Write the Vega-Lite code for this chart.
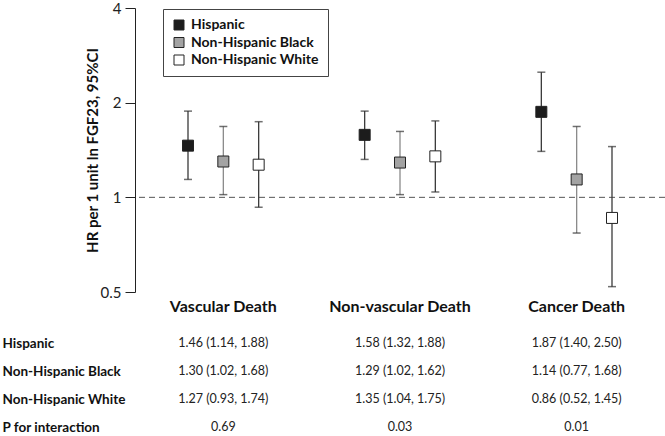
{
  "$schema": "https://vega.github.io/schema/vega-lite/v6.json",
  "padding": {"left": 2, "top": 1, "right": 0, "bottom": 0},
  "bounds": "flush",
  "spacing": 51,
  "resolve": {"scale": {"color": "independent"}, "legend": {"color": "independent"}},
  "config": {"font": "Lato", "view": {"stroke": null}},
  "datasets": {
    "est": [
      {"group": "Vascular Death", "race": "Hispanic", "hr": 1.46, "lo": 1.14, "hi": 1.88},
      {"group": "Vascular Death", "race": "Non-Hispanic Black", "hr": 1.30, "lo": 1.02, "hi": 1.68},
      {"group": "Vascular Death", "race": "Non-Hispanic White", "hr": 1.27, "lo": 0.93, "hi": 1.74},
      {"group": "Non-vascular Death", "race": "Hispanic", "hr": 1.58, "lo": 1.32, "hi": 1.88},
      {"group": "Non-vascular Death", "race": "Non-Hispanic Black", "hr": 1.29, "lo": 1.02, "hi": 1.62},
      {"group": "Non-vascular Death", "race": "Non-Hispanic White", "hr": 1.35, "lo": 1.04, "hi": 1.75},
      {"group": "Cancer Death", "race": "Hispanic", "hr": 1.87, "lo": 1.40, "hi": 2.50},
      {"group": "Cancer Death", "race": "Non-Hispanic Black", "hr": 1.14, "lo": 0.77, "hi": 1.68},
      {"group": "Cancer Death", "race": "Non-Hispanic White", "hr": 0.86, "lo": 0.52, "hi": 1.45}
    ],
    "tab": [
      {"group": "Vascular Death", "row": "Hispanic", "txt": "1.46 (1.14, 1.88)"},
      {"group": "Vascular Death", "row": "Non-Hispanic Black", "txt": "1.30 (1.02, 1.68)"},
      {"group": "Vascular Death", "row": "Non-Hispanic White", "txt": "1.27 (0.93, 1.74)"},
      {"group": "Vascular Death", "row": "P for interaction", "txt": "0.69"},
      {"group": "Non-vascular Death", "row": "Hispanic", "txt": "1.58 (1.32, 1.88)"},
      {"group": "Non-vascular Death", "row": "Non-Hispanic Black", "txt": "1.29 (1.02, 1.62)"},
      {"group": "Non-vascular Death", "row": "Non-Hispanic White", "txt": "1.35 (1.04, 1.75)"},
      {"group": "Non-vascular Death", "row": "P for interaction", "txt": "0.03"},
      {"group": "Cancer Death", "row": "Hispanic", "txt": "1.87 (1.40, 2.50)"},
      {"group": "Cancer Death", "row": "Non-Hispanic Black", "txt": "1.14 (0.77, 1.68)"},
      {"group": "Cancer Death", "row": "Non-Hispanic White", "txt": "0.86 (0.52, 1.45)"},
      {"group": "Cancer Death", "row": "P for interaction", "txt": "0.01"}
    ],
    "ref": [{"v": 1}]
  },
  "vconcat": [
    {
      "width": 530,
      "height": 284,
      "layer": [
        {
          "data": {"name": "ref"},
          "mark": {"type": "rule", "strokeDash": [6, 4], "color": "#555", "strokeWidth": 1},
          "encoding": {"y": {"field": "v", "type": "quantitative", "scale": {"type": "log", "base": 2, "domain": [0.5, 4]}}}
        },
        {
          "data": {"name": "est"},
          "mark": {"type": "rule", "strokeWidth": 1.3},
          "encoding": {
            "x": {"field": "group", "type": "nominal", "sort": ["Vascular Death", "Non-vascular Death", "Cancer Death"], "scale": {"paddingInner": 0, "paddingOuter": 0}},
            "xOffset": {"field": "race", "type": "nominal", "sort": ["Hispanic", "Non-Hispanic Black", "Non-Hispanic White"], "scale": {"paddingInner": 0, "paddingOuter": 1.65}},
            "y": {"field": "lo", "type": "quantitative"},
            "y2": {"field": "hi"},
            "stroke": {"condition": {"test": "datum.race === 'Non-Hispanic Black'", "value": "#8a8a8a"}, "value": "#3a3a3a"}
          }
        },
        {
          "data": {"name": "est"},
          "mark": {"type": "tick", "size": 8, "thickness": 1.5, "color": "#333"},
          "encoding": {
            "x": {"field": "group", "type": "nominal", "sort": ["Vascular Death", "Non-vascular Death", "Cancer Death"]},
            "xOffset": {"field": "race", "type": "nominal", "sort": ["Hispanic", "Non-Hispanic Black", "Non-Hispanic White"]},
            "y": {"field": "lo", "type": "quantitative"}
          }
        },
        {
          "data": {"name": "est"},
          "mark": {"type": "tick", "size": 8, "thickness": 1.5, "color": "#333"},
          "encoding": {
            "x": {"field": "group", "type": "nominal", "sort": ["Vascular Death", "Non-vascular Death", "Cancer Death"]},
            "xOffset": {"field": "race", "type": "nominal", "sort": ["Hispanic", "Non-Hispanic Black", "Non-Hispanic White"]},
            "y": {"field": "hi", "type": "quantitative"}
          }
        },
        {
          "data": {"name": "est"},
          "mark": {"type": "point", "shape": "square", "filled": true, "size": 121, "stroke": "#222", "strokeWidth": 1, "opacity": 1},
          "encoding": {
            "x": {"field": "group", "type": "nominal", "sort": ["Vascular Death", "Non-vascular Death", "Cancer Death"],
              "axis": {"title": null, "orient": "bottom", "domain": false, "ticks": false, "labelAngle": 0, "labelAlign": "center", "labelFontWeight": "bold", "labelFontSize": 16, "labelPadding": 14, "labelColor": "#111"}},
            "xOffset": {"field": "race", "type": "nominal", "sort": ["Hispanic", "Non-Hispanic Black", "Non-Hispanic White"]},
            "y": {"field": "hr", "type": "quantitative",
              "axis": {"title": "HR per 1 unit ln FGF23, 95%CI", "values": [0.5, 1, 2, 4], "format": "~g", "grid": false, "domainColor": "#222", "tickColor": "#222", "tickSize": 10, "labelPadding": 4, "labelFontSize": 15, "labelColor": "#222", "titleFontSize": 15, "titleFontWeight": "bold", "titleColor": "#111", "titlePadding": 0}},
            "color": {"field": "race", "type": "nominal", "scale": {"domain": ["Hispanic", "Non-Hispanic Black", "Non-Hispanic White"], "range": ["#1c1c1c", "#a3a3a3", "#ffffff"]},
              "legend": {"title": null, "orient": "none", "legendX": 28, "legendY": 1, "strokeColor": "#444", "padding": 9, "rowPadding": 3.5, "symbolType": "square", "symbolSize": 100, "symbolStrokeColor": "#222", "symbolStrokeWidth": 1, "labelOffset": 5, "labelFontSize": 14, "labelFontWeight": "bold", "labelColor": "#111", "fillColor": "#fff"}}
          }
        }
      ]
    },
    {
      "width": 530,
      "height": 84,
      "data": {"name": "tab"},
      "mark": {"type": "text", "fontSize": 12.5, "color": "#222"},
      "encoding": {
        "x": {"field": "group", "type": "nominal", "sort": ["Vascular Death", "Non-vascular Death", "Cancer Death"], "scale": {"paddingInner": 0, "paddingOuter": 0}, "axis": null},
        "y": {"field": "row", "type": "nominal", "sort": ["Hispanic", "Non-Hispanic Black", "Non-Hispanic White", "P for interaction"], "scale": {"type": "point", "padding": 0},
          "axis": {"title": null, "domain": false, "ticks": false, "tickSize": 0, "labelAlign": "left", "labelPadding": 133, "labelFontWeight": "bold", "labelFontSize": 13.5, "labelColor": "#111"}},
        "text": {"field": "txt"}
      }
    }
  ]
}
